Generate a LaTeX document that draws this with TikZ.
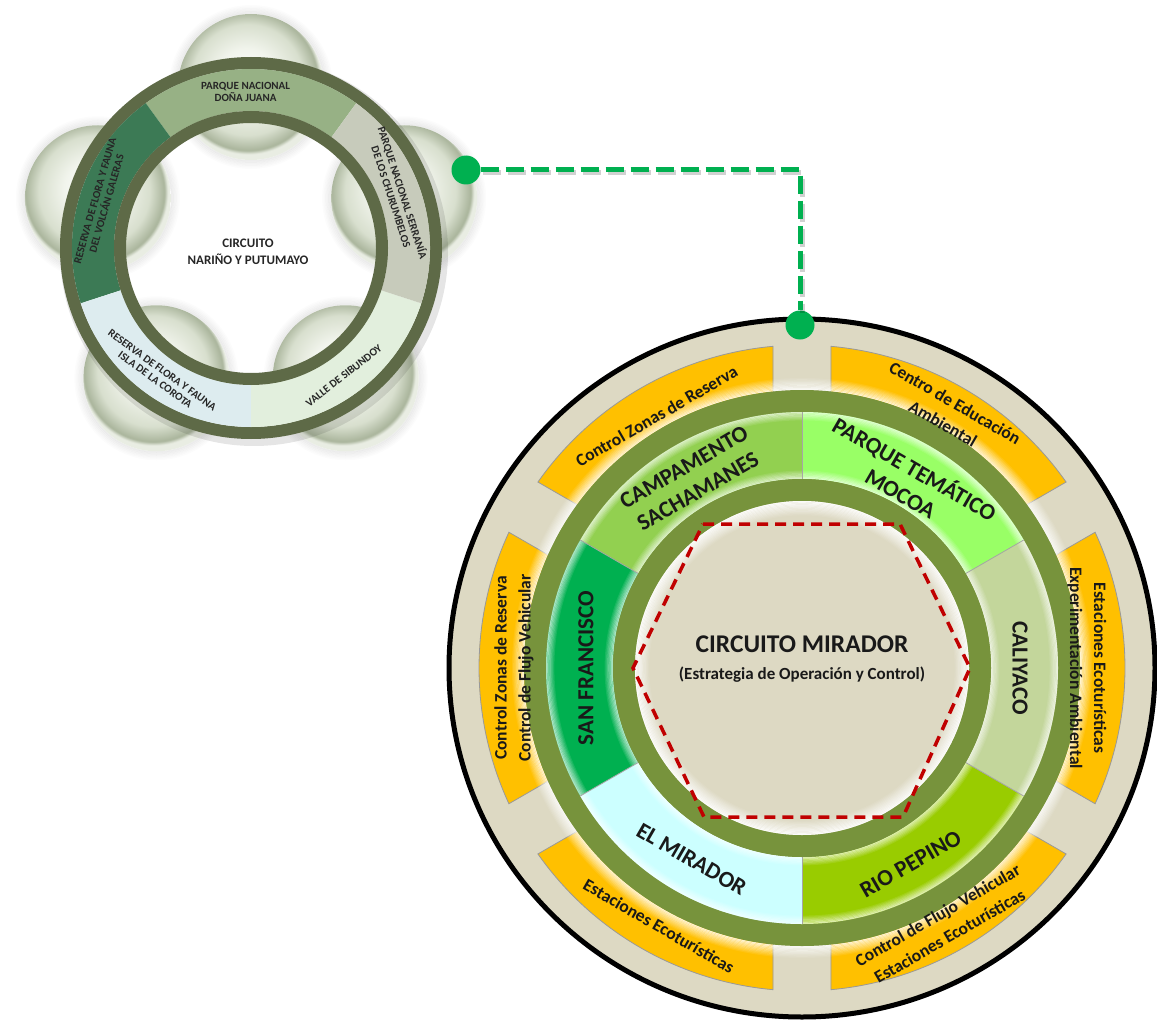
\documentclass[tikz,border=0pt]{standalone}
\usepackage{fontspec}
\setmainfont{Carlito}
\usetikzlibrary{calc}
\definecolor{beigeB}{HTML}{DDD9C3}
\definecolor{ringG}{HTML}{77933C}
\definecolor{orangeB}{HTML}{FFC000}
\definecolor{segA}{HTML}{92D050}
\definecolor{segB}{HTML}{99FF66}
\definecolor{segC}{HTML}{C3D69B}
\definecolor{segD}{HTML}{99CC00}
\definecolor{segE}{HTML}{CCFFFF}
\definecolor{segF}{HTML}{00B050}
\definecolor{hexred}{HTML}{C00000}
\definecolor{dotgreen}{HTML}{00B050}
\definecolor{darkR}{HTML}{5E6A47}
\definecolor{smA}{HTML}{97B185}
\definecolor{smB}{HTML}{3C7A55}
\definecolor{smC}{HTML}{DDECEF}
\definecolor{smD}{HTML}{E2EFDD}
\definecolor{smE}{HTML}{C7CBBB}
\definecolor{sphA}{HTML}{FFFFFF}
\definecolor{sphB}{HTML}{F1F4EC}
\definecolor{sphC}{HTML}{D8DFCE}
\definecolor{sphD}{HTML}{AAB59C}
\definecolor{sphE}{HTML}{E9EDE3}
\pgfdeclareradialshading{sphsh}{\pgfpoint{-2bp}{4bp}}{color(0bp)=(sphA); color(10bp)=(sphB); color(19bp)=(sphC); color(23.8bp)=(sphD); color(25bp)=(sphE); color(50bp)=(sphE)}
\newcommand\ansec[6]{%
  \path[#6] ([shift={(#1)}]#2:#5) arc[start angle=#2, end angle=#3, radius=#5]
    -- ([shift={(#1)}]#3:#4) arc[start angle=#3, end angle=#2, radius=#4] -- cycle;}
\tikzset{
  seglbl/.style={font=\bfseries\fontsize{23}{28}\selectfont, align=center, inner sep=0pt, text=black!90},
  orglbl/.style={font=\bfseries\fontsize{17.5}{24}\selectfont, align=center, inner sep=0pt, text=black!90},
  smlbl/.style={font=\bfseries\fontsize{11}{12}\selectfont, align=center, inner sep=0pt, text=black!85},
  gdot/.style={circle, fill=dotgreen, minimum size=29pt, inner sep=0pt},
  conn/.style={dotgreen, line width=5pt, dash pattern=on 18pt off 7pt},
}
\begin{document}
\begin{tikzpicture}[x=1pt, y=1pt]
\fill[white] (0,0) rectangle (1157,-1022);
\useasboundingbox (0,0) rectangle (1157,-1022);

% ---------------- small circuit ----------------
\coordinate (S) at (251,-248);
\foreach \t in {90,162,234,306,18}{
  \foreach \i in {0,...,5}{
    \pgfmathsetmacro\rr{73.75+1.5*\i}
    \pgfmathsetmacro\op{0.07*(1-\i/6)}
    \draw[black, line width=1.5pt, opacity=\op] ([shift={(S)}]\t:161) circle[radius=\rr];
  }
  \shade[shading=sphsh] ([shift={(S)}]\t:161) circle[radius=73];
}
\fill[black, opacity=0.10, even odd rule] ([shift={(3,-4)}]S) circle[radius=194] ([shift={(3,-4)}]S) circle[radius=176];
\fill[darkR, even odd rule] (S) circle[radius=191] (S) circle[radius=179];
\ansec{S}{54}{126}{137}{179}{fill=smA}
\ansec{S}{126}{198}{137}{179}{fill=smB}
\ansec{S}{198}{270}{137}{179}{fill=smC}
\ansec{S}{270}{342}{137}{179}{fill=smD}
\ansec{S}{342}{414}{137}{179}{fill=smE}
\fill[darkR, even odd rule] (S) circle[radius=137] (S) circle[radius=125];
\node[smlbl] (tDJ) at ([shift={(S)}]92:156) {PARQUE NACIONAL\\DOÑA JUANA};
\node[smlbl, rotate=-72] (tCh) at ([shift={(S)}]20:156) {PARQUE NACIONAL SERRANÍA\\DE LOS CHURUMBELOS};
\node[smlbl, rotate=38] (tSi) at ([shift={(S)}]306:158) {VALLE DE SIBUNDOY};
\node[smlbl, rotate=-36] (tCo) at ([shift={(S)}]234:157) {RESERVA DE FLORA Y FAUNA\\ISLA DE LA COROTA};
\node[smlbl, rotate=74] (tGa) at ([shift={(S)}]163:157) {RESERVA DE FLORA Y FAUNA\\DEL VOLCÁN GALERAS};
\node[font=\bfseries\fontsize{13}{17}\selectfont, align=center, text=black!85, inner sep=0pt] (tNP) at (248,-252) {CIRCUITO\\NARIÑO Y PUTUMAYO};

% ---------------- big circuit ----------------
\coordinate (C) at (802,-668);
\draw[line width=5pt, fill=beigeB] (C) ellipse[x radius=353, y radius=349];
\foreach \a in {0,60,...,300}{
  \pgfmathsetmacro\aoA{\a-30+asin(29/323)}
  \pgfmathsetmacro\aoB{\a+30-asin(29/323)}
  \pgfmathsetmacro\aiA{\a-30+asin(29/255)}
  \pgfmathsetmacro\aiB{\a+30-asin(29/255)}
  \path[fill=orangeB, draw=black!40, line width=0.8pt] ([shift={(C)}]\aoA:323) arc[start angle=\aoA, end angle=\aoB, radius=323]
     -- ([shift={(C)}]\aiB:255) arc[start angle=\aiB, end angle=\aiA, radius=255] -- cycle;
}
% white glow around outer ring
\foreach \i in {0,...,9}{
  \pgfmathsetmacro\rr{278.6+1.2*\i}
  \pgfmathsetmacro\op{0.8*(1-\i/10)}
  \draw[white, line width=1.2pt, opacity=\op] (C) circle[radius=\rr];
}
\fill[ringG] (C) circle[radius=278];
\ansec{C}{90}{150}{189}{256}{fill=segA}
\ansec{C}{150}{210}{189}{256}{fill=segF}
\ansec{C}{210}{270}{189}{256}{fill=segE}
\ansec{C}{270}{330}{189}{256}{fill=segD}
\ansec{C}{330}{390}{189}{256}{fill=segC}
\ansec{C}{30}{90}{189}{256}{fill=segB}
\foreach \i in {0,...,6}{
  \pgfmathsetmacro\ra{256-0.6-1.2*\i}
  \pgfmathsetmacro\rb{189+0.6+1.2*\i}
  \pgfmathsetmacro\op{0.65*(1-\i/7)}
  \draw[white, line width=1.2pt, opacity=\op] (C) circle[radius=\ra];
  \draw[white, line width=1.2pt, opacity=\op] (C) circle[radius=\rb];
}
\foreach \a in {30,90,...,330}{
  \draw[black!35, line width=0.8pt] ([shift={(C)}]\a:189) -- ([shift={(C)}]\a:256);
}
\fill[ringG] (C) circle[radius=189];
\fill[beigeB] (C) circle[radius=167];
\foreach \i in {0,...,11}{
  \pgfmathsetmacro\rr{167-0.6-1.2*\i}
  \pgfmathsetmacro\op{0.9*(1-\i/12)}
  \draw[white, line width=1.2pt, opacity=\op] (C) circle[radius=\rr];
}
\draw[hexred, line width=3.5pt, dash pattern=on 11pt off 7pt, line join=miter]
  (703,-524) -- (900,-524) -- (970,-668) -- (903,-817) -- (704,-817) -- (633,-668) -- cycle;

\node[font=\bfseries\fontsize{25.5}{28}\selectfont, inner sep=0pt, text=black!90] (tCM) at (802,-644) {CIRCUITO MIRADOR};
\node[font=\bfseries\fontsize{17}{20}\selectfont, inner sep=0pt, text=black!90] (tEO) at (802,-675) {(Estrategia de Operación y Control)};

\node[seglbl, rotate=30]  (tCamp) at ([shift={(C)}]120.5:219) {CAMPAMENTO\\SACHAMANES};
\node[seglbl, rotate=-30] (tPar)  at ([shift={(C)}]60.5:216) {PARQUE TEMÁTICO\\MOCOA};
\node[seglbl, rotate=-90] (tCal)  at ([shift={(C)}]0:218) {CALIYACO};
\node[seglbl, rotate=30]  (tRio)  at ([shift={(C)}]-61:224) {RIO PEPINO};
\node[seglbl, rotate=-30] (tMir)  at ([shift={(C)}]-120:221) {EL MIRADOR};
\node[seglbl, rotate=90]  (tSF)   at ([shift={(C)}]180:216) {SAN FRANCISCO};

\node[orglbl, rotate=30]  (oA) at ([shift={(C)}]120:291) {Control Zonas de Reserva};
\node[orglbl, rotate=-30] (oB) at ([shift={(C)}]60:294) {Centro de Educación\\Ambiental};
\node[orglbl, rotate=-90] (oC) at ([shift={(C)}]0:285) {Estaciones Ecoturísticas\\Experimentación Ambiental};
\node[orglbl, rotate=30]  (oD) at ([shift={(C)}]-61.2:294) {Control de Flujo Vehicular\\Estaciones Ecoturísticas};
\node[orglbl, rotate=-30] (oE) at ([shift={(C)}]-119:295) {Estaciones Ecoturísticas};
\node[orglbl, rotate=90]  (oF) at ([shift={(C)}]180:288) {Control Zonas de Reserva\\Control de Flujo Vehicular};

% ---------------- connector ----------------
\node[gdot] (d1) at (466,-170) {};
\node[gdot] (d2) at (800,-325) {};
\draw[conn, black, opacity=0.18, transform canvas={shift={(2pt,-3pt)}}] (d1) -| (d2);
\draw[conn] (d1) -| (d2);
\end{tikzpicture}
\end{document}
